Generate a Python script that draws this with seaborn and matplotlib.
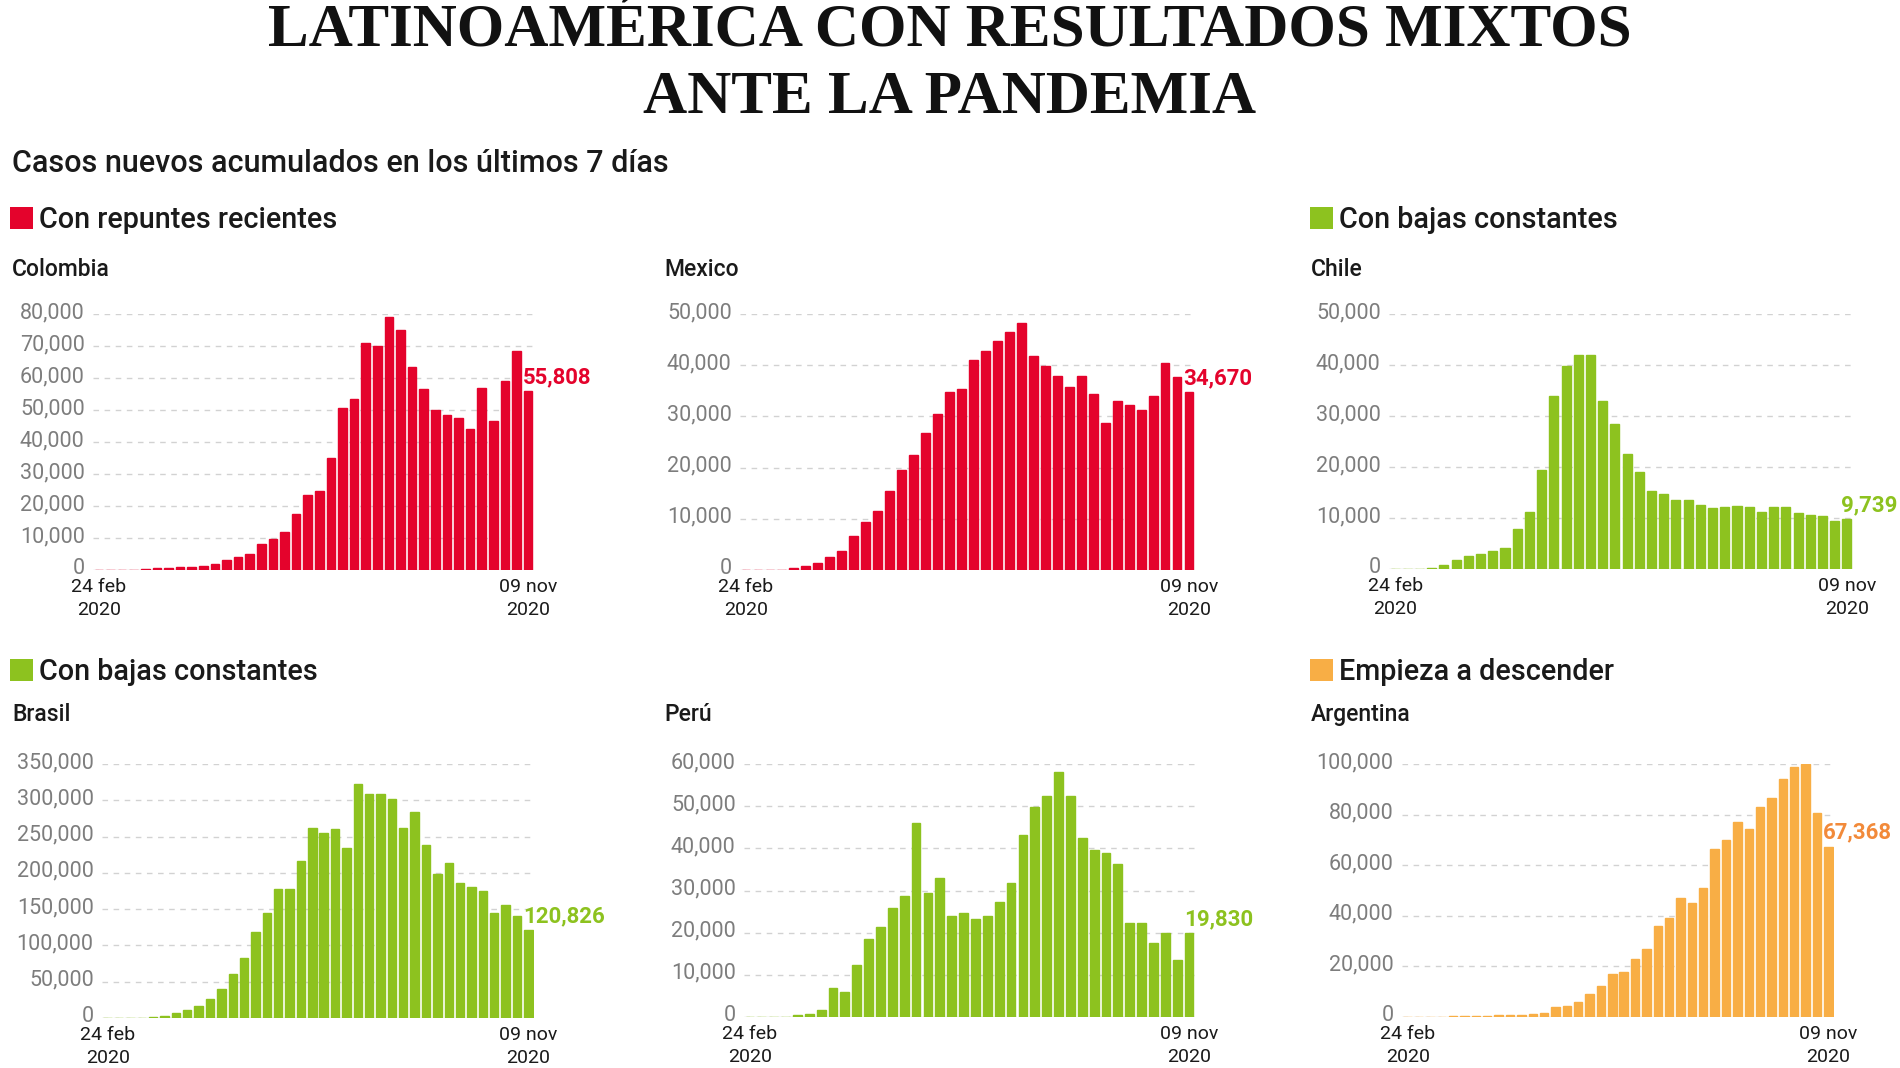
import numpy as np
import pandas as pd
import seaborn as sns
import matplotlib.pyplot as plt
from matplotlib.patches import Rectangle
from matplotlib.ticker import FuncFormatter
from matplotlib.transforms import ScaledTranslation

# semanas del 24 feb al 09 nov de 2020
semanas = pd.date_range("2020-02-24", "2020-11-09", freq="7D").strftime("%d %b")

colombia = [0, 0, 0, 10, 200, 500, 700, 900, 1000, 1300, 1900, 3000, 4000, 5000,
            8000, 9800, 12000, 17500, 23500, 24700, 35000, 50500, 53500, 71000,
            70000, 79000, 75000, 63500, 56500, 50000, 48500, 47500, 44000, 57000,
            46500, 59000, 68500, 55808]
mexico = [0, 0, 10, 50, 300, 700, 1400, 2600, 3800, 6700, 9300, 11500, 15500,
          19500, 22500, 26700, 30500, 34800, 35400, 41000, 42800, 44800, 46400,
          48300, 41800, 39800, 37800, 35800, 37800, 34300, 28800, 33000, 32300,
          31300, 34000, 40400, 37600, 34670]
chile = [0, 0, 0, 100, 700, 1700, 2600, 3000, 3500, 4200, 7900, 11200, 19500,
         34000, 39800, 42000, 41900, 33000, 28500, 22500, 19000, 15300, 14700,
         13500, 13500, 12500, 12000, 12200, 12400, 12200, 11200, 12200, 12100,
         11000, 10500, 10400, 9500, 9739]
brasil = [0, 0, 0, 0, 1500, 3000, 6500, 10500, 16500, 26000, 40000, 60000, 83000,
          118000, 144000, 178000, 178000, 216000, 262000, 255000, 261000, 234000,
          322000, 308000, 308000, 302000, 262000, 284000, 239000, 198000, 213000,
          186000, 180000, 175000, 145000, 156000, 141000, 120826]
peru = [0, 0, 0, 0, 500, 800, 1600, 6800, 6000, 12300, 18600, 21300, 25800, 28700,
        46000, 29300, 33000, 24000, 24700, 23200, 24000, 27300, 31800, 43200,
        49700, 52500, 58100, 52500, 42400, 39500, 38900, 36300, 22400, 22400,
        17500, 20000, 13600, 19830]
argentina = [0, 0, 0, 0, 200, 300, 400, 500, 600, 700, 800, 1100, 1700, 4000,
             4300, 6000, 9000, 12300, 17100, 17800, 23000, 27000, 36000, 39000,
             47000, 45000, 51000, 66500, 70000, 77000, 74500, 83000, 86500, 94000,
             99000, 100000, 80500, 67368]

ROJO = "#E4032C"
VERDE = "#8DC21F"
NARANJA = "#F8AE45"
NARANJA_TXT = "#F28A3A"

W, H = 1900, 1068

sns.set_theme(style="white")
plt.rcParams["font.family"] = ["Roboto", "DejaVu Sans"]

fig = plt.figure(figsize=(W / 100, H / 100), dpi=100)
fig.patch.set_facecolor("white")


def fy(y):
    return 1 - y / H


# titulo
titulo_fuente = dict(family=["Liberation Serif", "DejaVu Serif"], fontweight="bold",
                     fontsize=44, color="#111111", ha="center", va="baseline")
fig.text(0.5, fy(45), "LATINOAMÉRICA CON RESULTADOS MIXTOS", **titulo_fuente)
fig.text(0.5, fy(113), "ANTE LA PANDEMIA", **titulo_fuente)

fig.text(12 / W, fy(172), "Casos nuevos acumulados en los últimos 7 días",
         fontsize=22, fontweight="medium", color="#1a1a1a", va="baseline")


def encabezado(x, y, texto, color):
    fig.add_artist(Rectangle((x / W, fy(y + 1)), 23 / W, 22 / H,
                             transform=fig.transFigure, color=color, lw=0))
    fig.text((x + 29) / W, fy(y), texto, fontsize=20.7, fontweight="medium",
             color="#1a1a1a", va="baseline")


encabezado(10, 228, "Con repuntes recientes", ROJO)
encabezado(1310, 228, "Con bajas constantes", VERDE)
encabezado(10, 680, "Con bajas constantes", VERDE)
encabezado(1310, 680, "Empieza a descender", NARANJA)

paneles = [
    ("Colombia", colombia, ROJO, ROJO, 80000, 10000, (12, 276), (93, 314, 534, 570)),
    ("Mexico", mexico, ROJO, ROJO, 50000, 10000, (664, 276), (740, 314, 1195, 570)),
    ("Chile", chile, VERDE, VERDE, 50000, 10000, (1311, 276), (1389, 314, 1853, 569)),
    ("Brasil", brasil, VERDE, VERDE, 350000, 50000, (12, 721), (102, 764, 534, 1018)),
    ("Perú", peru, VERDE, VERDE, 60000, 10000, (664, 721), (744, 764, 1195, 1017)),
    ("Argentina", argentina, NARANJA, NARANJA_TXT, 100000, 20000, (1311, 721), (1402, 764, 1834, 1017)),
]

subir = ScaledTranslation(0, 4 / 100, fig.dpi_scale_trans)

for nombre, valores, color, color_txt, ymax, paso, (nx, ny), (l, t, r, b) in paneles:
    fig.text(nx / W, fy(ny), nombre, fontsize=16.5, fontweight="medium",
             color="#1a1a1a", va="baseline")

    ax = fig.add_axes([l / W, fy(b), (r - l) / W, (b - t) / H])
    df = pd.DataFrame({"semana": np.arange(len(valores)), "casos": valores})
    # el borde hace visibles las semanas sin casos como una raya en la base
    sns.barplot(data=df, x="semana", y="casos", color=color, saturation=1,
                width=0.74, edgecolor=color, linewidth=1.0, errorbar=None, ax=ax)

    n = len(valores)
    ax.set_xlim(-0.5, n - 0.5)
    ax.set_ylim(0, ymax)
    ax.set_yticks(np.arange(0, ymax + 1, paso))
    ax.yaxis.set_major_formatter(FuncFormatter(lambda v, p: f"{v:,.0f}"))
    ax.set_xticks([0, n - 1], ["24 feb\n2020", "09 nov\n2020"])
    ax.grid(axis="y", color="#d2d2d2", linestyle=(0, (4, 4)), linewidth=1)
    ax.grid(axis="x", visible=False)
    ax.set_axisbelow(True)
    sns.despine(ax=ax, left=True, bottom=True)
    ax.set_xlabel("")
    ax.set_ylabel("")
    ax.set_facecolor("none")
    ax.tick_params(length=0)
    ax.tick_params(axis="y", colors="#7d7d7d", pad=6, labelsize=15.5)
    ax.tick_params(axis="x", colors="#1a1a1a", pad=6, labelsize=14)
    for lbl in ax.get_xticklabels():
        lbl.set_linespacing(1.3)
    for lbl in ax.get_yticklabels():
        lbl.set_transform(lbl.get_transform() + subir)

    ax.annotate(f"{valores[-1]:,}", xy=(n - 1 - 0.45, valores[-1]), xytext=(0, 2),
                textcoords="offset points", ha="left", va="bottom", color=color_txt,
                fontsize=16, fontweight="bold", annotation_clip=False)

fig.savefig("out.png", dpi=100, facecolor="white")
